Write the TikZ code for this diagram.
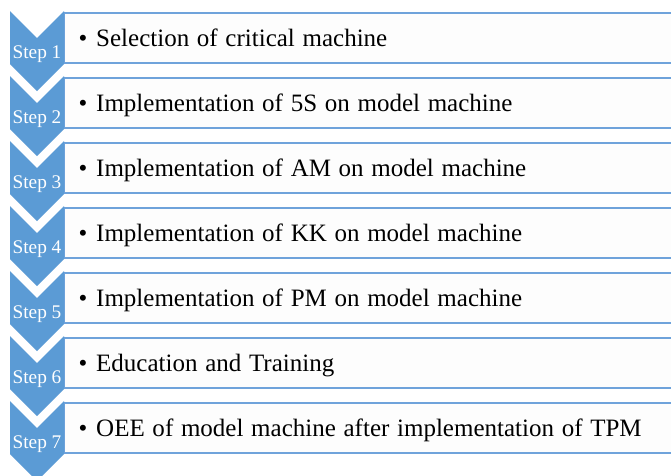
\documentclass[tikz,border=0pt]{standalone}
\usepackage{fontspec}
\setmainfont{Liberation Serif}
\definecolor{chev}{HTML}{5B9BD5}
\definecolor{boxline}{HTML}{6FA3DB}
\definecolor{boxfill}{HTML}{FDFDFD}
\newcommand\myspacing{\spaceskip 7.7pt\relax}
\begin{document}
\begin{tikzpicture}[x=1pt,y=-1pt,
  chevshape/.style={fill=chev,draw=none},
  boxshape/.style={draw=boxline,line width=1.8pt,fill=boxfill},
  steplabel/.style={text=white,font=\fontsize{19.3}{19.3}\selectfont,anchor=base,inner sep=0pt},
  bullettext/.style={font=\fontsize{25}{25}\selectfont,anchor=base,inner sep=0pt},
  itemtext/.style={font=\fontsize{25}{25}\selectfont,anchor=base west,inner sep=0pt}]
\useasboundingbox (0,0) rectangle (671,475);
\clip (0,0) rectangle (671,475);
\fill[white] (0,0) rectangle (671,475);
\foreach \i/\n/\t in {0/1/{Selection of critical machine},
                      1/2/{Implementation of 5S on model machine},
                      2/3/{Implementation of AM on model machine},
                      3/4/{Implementation of KK on model machine},
                      4/5/{Implementation of PM on model machine},
                      5/6/{Education and Training},
                      6/7/{OEE of model machine after implementation of TPM}} {
  \pgfmathsetmacro\y{11+65*\i}
  \draw[boxshape] (64,\y+1.7) rectangle (720,\y+52);
  \fill[chevshape] (10,\y) -- (37,\y+27) -- (64,\y) -- (64,\y+53) -- (37,\y+80) -- (10,\y+53) -- cycle;
  \node[steplabel] (s\n) at (37,\y+47) {Step \n};
  \node[bullettext] (b\n) at (83,\y+35) {\textbullet};
  \node[itemtext] (t\n) at (96,\y+35) {\myspacing\t};
}
\end{tikzpicture}
\end{document}
